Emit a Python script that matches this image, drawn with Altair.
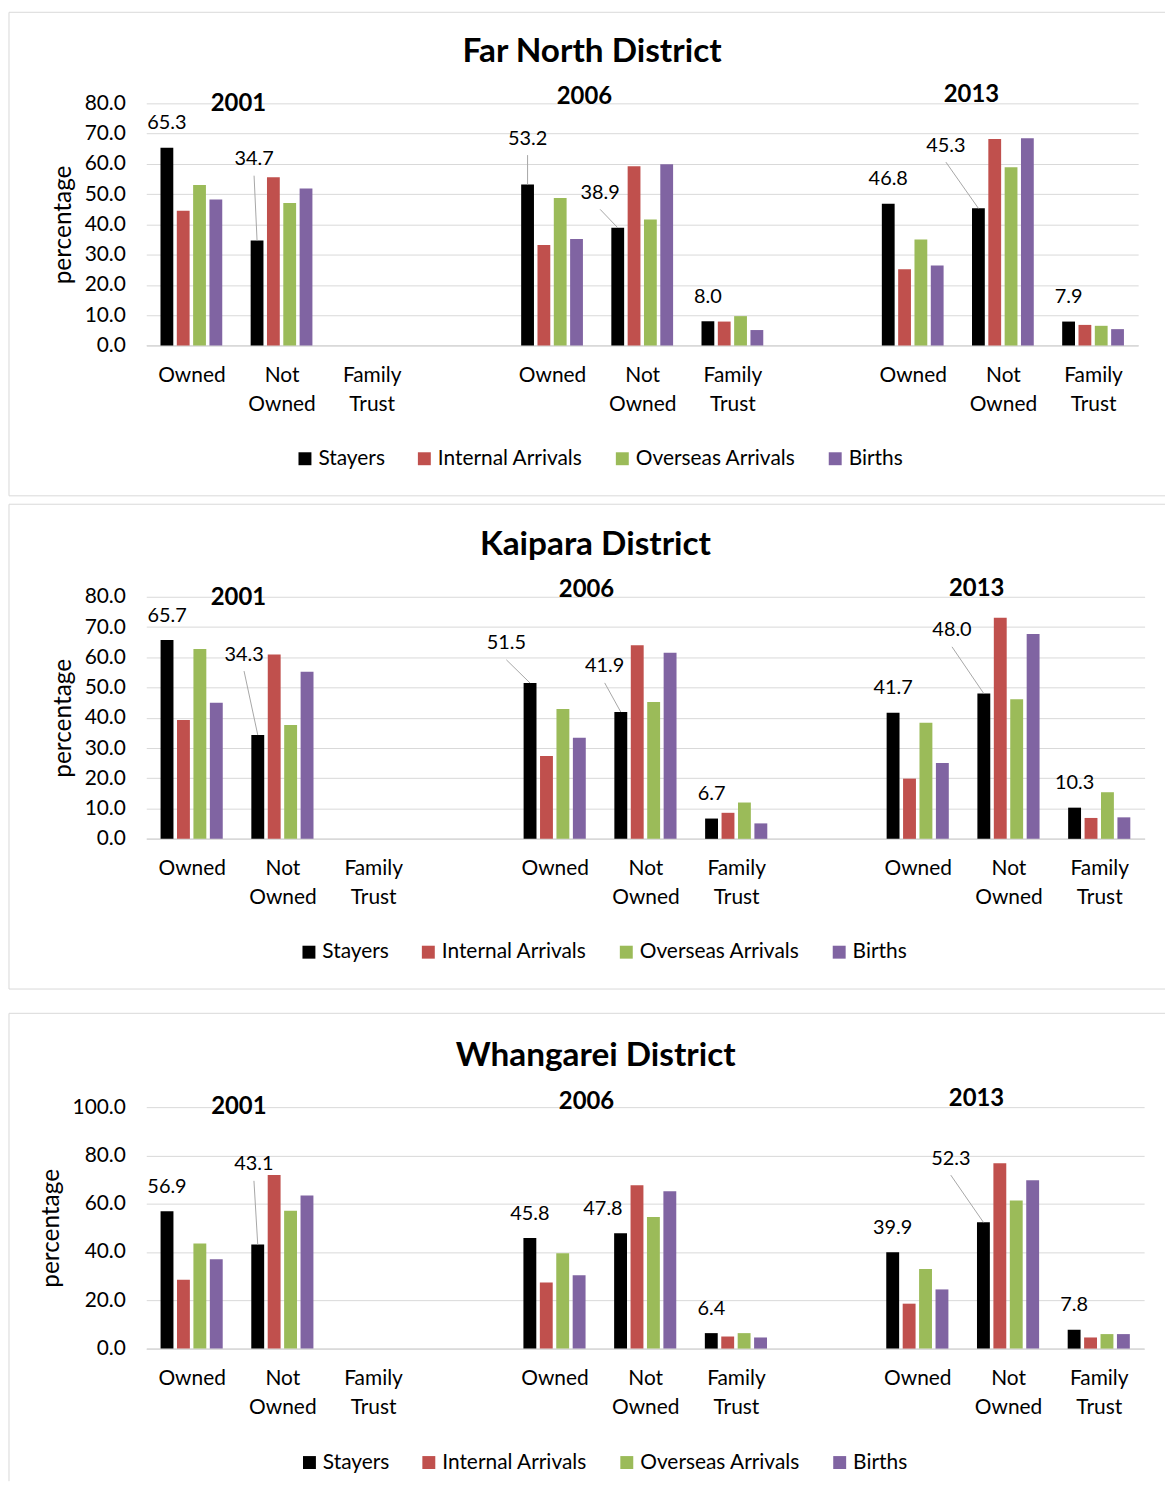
import json
import altair as alt
import pandas as pd

# ---------------------------------------------------------------- data
YEARS = ["2001", "2006", "2013"]
TENURES = ["Owned", "Not Owned", "Family Trust"]
SERIES = ["Stayers", "Internal Arrivals", "Overseas Arrivals", "Births"]
COLORS = ["#000000", "#C0504D", "#9BBB59", "#8064A2"]

# values ordered: 2001 Owned, 2001 Not Owned, 2001 Family Trust, 2006 ..., 2013 ...
FN_STAYERS = [65.3, 34.7, None, 53.2, 38.9, 8.0, 46.8, 45.3, 7.9]
FN_INTERNAL = [44.5, 55.6, None, 33.2, 59.2, 7.9, 25.2, 68.2, 6.8]
FN_OVERSEAS = [53.0, 47.1, None, 48.7, 41.6, 9.7, 35.0, 58.9, 6.5]
FN_BIRTHS = [48.2, 51.9, None, 35.2, 59.9, 5.1, 26.4, 68.5, 5.4]

KP_STAYERS = [65.7, 34.3, None, 51.5, 41.9, 6.7, 41.7, 48.0, 10.3]
KP_INTERNAL = [39.3, 60.9, None, 27.4, 64.0, 8.6, 19.9, 73.1, 6.9]
KP_OVERSEAS = [62.7, 37.6, None, 42.9, 45.2, 12.0, 38.4, 46.1, 15.4]
KP_BIRTHS = [45.0, 55.2, None, 33.4, 61.5, 5.1, 25.1, 67.7, 7.1]

WH_STAYERS = [56.9, 43.1, None, 45.8, 47.8, 6.4, 39.9, 52.3, 7.8]
WH_INTERNAL = [28.5, 71.9, None, 27.4, 67.6, 5.0, 18.6, 76.8, 4.6]
WH_OVERSEAS = [43.5, 57.1, None, 39.5, 54.5, 6.4, 33.0, 61.3, 6.0]
WH_BIRTHS = [37.0, 63.4, None, 30.4, 65.2, 4.6, 24.5, 69.7, 6.0]

TITLES = ["Far North District", "Kaipara District", "Whangarei District"]

# ---------------------------------------------------------------- styling
FONT = "Lato"
GRID = "#d9d9d9"
SLOTS_PER_YEAR = len(TENURES) + 1          # empty slot between census years
N_SLOTS = len(YEARS) * SLOTS_PER_YEAR - 1
GROUP_STEP = 0.181                         # bar step, fraction of a slot
BAR_W = 0.142                              # bar width, fraction of a slot
BOX_LEFT = -138
BOX_RIGHT = 1024

# label placement for Stayers data labels: index -> (dx px, dy px, leader line)
DEFAULT_LABEL = (0, -24.5, False)
PANELS = [
    dict(values=[FN_STAYERS, FN_INTERNAL, FN_OVERSEAS, FN_BIRTHS],
         width=997, height=243.4, ymax=80, ystep=10,
         box_top=-91.5, box_bottom=394.5, extra_top=None,
         title_pos=(448, -42),
         year_pos=[(92.6, 0.4), (440.4, -6.3), (829.4, -8.5)],
         labels={1: (-3, -81.6, True), 3: (0, -46, True),
                 4: (-17.7, -35, True), 7: (-32.7, -63, True)},
         legend=(149, 346.5)),
    dict(values=[KP_STAYERS, KP_INTERNAL, KP_OVERSEAS, KP_BIRTHS],
         width=1003.5, height=243.3, ymax=80, ystep=10,
         box_top=-93, box_bottom=394.3, extra_top=None,
         title_pos=(451.5, -42),
         year_pos=[(92.6, 0.8), (442.5, -6.7), (834.7, -7.4)],
         labels={1: (-13.8, -80.8, True), 3: (-23.8, -39.8, True),
                 4: (-16.2, -45.8, True), 7: (-32, -63.5, True)},
         legend=(153, 346.5)),
    dict(values=[WH_STAYERS, WH_INTERNAL, WH_OVERSEAS, WH_BIRTHS],
         width=1003, height=242.7, ymax=100, ystep=20,
         box_top=-94.3, box_bottom=None, extra_top=-110,
         title_pos=(451.7, -41),
         year_pos=[(93, -0.3), (442.5, -5.3), (834.5, -8.5)],
         labels={1: (-3.8, -80.5, True), 4: (-17.7, -23.8, False),
                 7: (-32.8, -63.9, True)},
         legend=(153.5, 346.5)),
]

label_lines = [t.split(" ") for t in TENURES]
LABEL_EXPR = f"{json.dumps(label_lines)}[floor(datum.value) % {SLOTS_PER_YEAR}]"
TICK_VALUES = [yi * SLOTS_PER_YEAR + ti for yi in range(len(YEARS)) for ti in range(len(TENURES))]


def one_row():
    return pd.DataFrame({"one": [1]})


def build_panel(title, p):
    slot_px = p["width"] / N_SLOTS
    ppu = p["height"] / p["ymax"]
    xscale = alt.Scale(domain=[-0.5, N_SLOTS - 0.5], nice=False, zero=False)
    yscale = alt.Scale(domain=[0, p["ymax"]], nice=False, zero=True)

    bars, labs, leads = [], [], []
    for yi, year in enumerate(YEARS):
        for ti, ten in enumerate(TENURES):
            idx = yi * len(TENURES) + ti
            slot = yi * SLOTS_PER_YEAR + ti
            for k, s in enumerate(SERIES):
                v = p["values"][k][idx]
                if v is None:
                    continue
                c = slot + (k - (len(SERIES) - 1) / 2) * GROUP_STEP
                bars.append(dict(series=s, year=year, tenure=ten, value=v,
                                 left=c - BAR_W / 2, right=c + BAR_W / 2, zero=0.0))
                if k == 0:
                    dx, dy, lead = p["labels"].get(idx, DEFAULT_LABEL)
                    lx = c + dx / slot_px
                    ly = v - dy / ppu
                    labs.append(dict(left=lx, value=ly, txt=f"{v:.1f}"))
                    if lead:
                        leads.append(dict(left=lx, value=ly - 16.5 / ppu, x2=c, y2=v))
    bars = pd.DataFrame(bars)
    labs = pd.DataFrame(labs)
    leads = pd.DataFrame(leads)

    xaxis = alt.Axis(values=TICK_VALUES, labelExpr=LABEL_EXPR, grid=False, ticks=False,
                     domainColor=GRID, domainWidth=1.5, labelFont=FONT, labelFontSize=21,
                     labelColor="black", labelPadding=19, labelLineHeight=29.5,
                     labelAngle=0, title=None)
    yaxis = alt.Axis(values=list(range(0, p["ymax"] + 1, p["ystep"])), format=".1f",
                     grid=True, gridColor=GRID, gridWidth=1, domain=False, ticks=False,
                     labelFont=FONT, labelFontSize=21, labelColor="black", labelPadding=21,
                     title="percentage", titleFont=FONT, titleFontSize=24.5,
                     titleFontWeight="normal", titleColor="black", titlePadding=9)
    X = alt.X("left:Q", scale=xscale, axis=xaxis)
    Y = alt.Y("value:Q", scale=yscale, axis=yaxis)

    legend = alt.Legend(orient="none", legendX=p["legend"][0], legendY=p["legend"][1],
                        direction="horizontal", columns=4, title=None,
                        symbolType="square", symbolSize=169, symbolStrokeWidth=0,
                        labelFont=FONT, labelFontSize=21, labelColor="black",
                        labelLimit=400, labelOffset=3, columnPadding=29, padding=0)

    bar_layer = alt.Chart(bars).mark_rect().encode(
        x=X, x2="right:Q", y=Y, y2="zero:Q",
        color=alt.Color("series:N", scale=alt.Scale(domain=SERIES, range=COLORS),
                        legend=legend, sort=SERIES),
    )

    lead_layer = alt.Chart(leads).mark_rule(color="#a6a6a6", strokeWidth=1).encode(
        x=X, x2="x2:Q", y=Y, y2="y2:Q",
    )

    lab_layer = alt.Chart(labs).mark_text(font=FONT, fontSize=20, color="black",
                                          baseline="middle", align="center").encode(
        x=X, y=Y, text="txt:N",
    )

    layers = []
    # panel frame
    frame = alt.Chart(one_row()).mark_rule(color=GRID, strokeWidth=1)
    layers.append(frame.encode(x=alt.value(BOX_LEFT), x2=alt.value(BOX_RIGHT), y=alt.value(p["box_top"])))
    bottom = p["box_bottom"] if p["box_bottom"] is not None else 376
    layers.append(frame.encode(x=alt.value(BOX_LEFT), y=alt.value(p["box_top"]), y2=alt.value(bottom)))
    if p["box_bottom"] is not None:
        layers.append(frame.encode(x=alt.value(BOX_LEFT), x2=alt.value(BOX_RIGHT), y=alt.value(p["box_bottom"])))
    if p["extra_top"] is not None:
        layers.append(alt.Chart(one_row()).mark_rule(color="white", strokeWidth=1).encode(
            x=alt.value(BOX_LEFT), x2=alt.value(BOX_LEFT + 5), y=alt.value(p["extra_top"])))

    layers += [bar_layer, lead_layer, lab_layer]

    # year headings
    for year, (px, py) in zip(YEARS, p["year_pos"]):
        layers.append(alt.Chart(pd.DataFrame({"t": [year]})).mark_text(
            font=FONT, fontSize=24, fontWeight="bold", color="black",
            baseline="middle", align="center").encode(
            text="t:N", x=alt.value(px), y=alt.value(py)))

    # panel title
    layers.append(alt.Chart(pd.DataFrame({"t": [title]})).mark_text(
        font=FONT, fontSize=33.5, fontWeight="bold", color="black",
        baseline="alphabetic", align="center").encode(
        text="t:N", x=alt.value(p["title_pos"][0]), y=alt.value(p["title_pos"][1])))

    return alt.layer(*layers).properties(width=p["width"], height=p["height"])


panels = [build_panel(t, p) for t, p in zip(TITLES, PANELS)]

chart = alt.vconcat(*panels, spacing=7).properties(
    padding=0, background="white"
).configure_view(stroke=None).resolve_scale(color="independent")

chart.save("out.html", embed_options={"renderer": "svg", "actions": False})
